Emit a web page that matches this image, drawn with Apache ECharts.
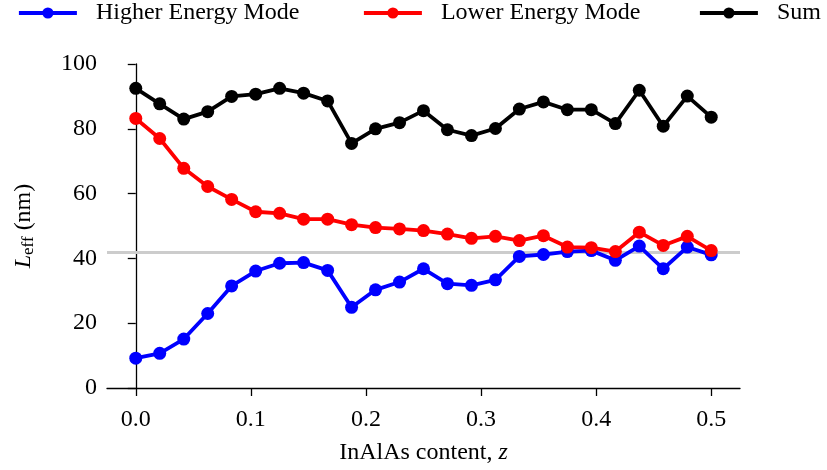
<!DOCTYPE html>
<html>
<head>
<meta charset="utf-8">
<script src="https://cdn.jsdelivr.net/npm/echarts@6/dist/echarts.min.js"></script>
<style>
  html, body { margin: 0; padding: 0; background: #ffffff; }
  #chart { width: 827px; height: 470px; }
</style>
</head>
<body>
<div id="chart"></div>
<script>
// InAlAs content z (one sample every 1/48)
const zContent = [0, 0.0208, 0.0417, 0.0625, 0.0833, 0.1042, 0.125, 0.1458, 0.1667, 0.1875,
  0.2083, 0.2292, 0.25, 0.2708, 0.2917, 0.3125, 0.3333, 0.3542, 0.375, 0.3958,
  0.4167, 0.4375, 0.4583, 0.4792, 0.5];

// Effective length L_eff (nm) for each mode
const higherMode = [9.2, 10.7, 15.1, 23.0, 31.5, 36.1, 38.5, 38.7, 36.3, 24.9,
  30.3, 32.7, 36.8, 32.2, 31.7, 33.4, 40.6, 41.2, 42.1, 42.4,
  39.4, 43.8, 36.8, 43.5, 41.1];
const lowerMode = [83.2, 77.0, 67.8, 62.2, 58.2, 54.4, 53.9, 52.1, 52.1, 50.4,
  49.5, 49.1, 48.6, 47.5, 46.2, 46.8, 45.5, 47.0, 43.5, 43.3,
  42.1, 48.1, 44.0, 46.8, 42.4];
const sumModes = [92.5, 87.7, 83.0, 85.3, 90.0, 90.7, 92.5, 91.0, 88.6, 75.5,
  80.0, 81.9, 85.6, 79.7, 77.9, 80.1, 86.1, 88.3, 85.9, 85.9,
  81.6, 91.9, 80.8, 90.1, 83.6];

// Reference level (nm)
const referenceLevel = 42;

const xTicks = [0, 0.1, 0.2, 0.3, 0.4, 0.5];
const seriesNames = ['Higher Energy Mode', 'Lower Energy Mode', 'Sum'];
const seriesColors = ['#0000ff', '#ff0000', '#000000'];

const FONT = '"Liberation Serif", "DejaVu Serif", serif';

function pairs(ys) {
  return zContent.map((x, i) => [x, ys[i]]);
}

function lineSeries(name, color, ys, z) {
  return {
    name: name,
    type: 'line',
    data: pairs(ys),
    z: z,
    symbol: 'circle',
    symbolSize: 13,
    showSymbol: true,
    itemStyle: { color: color },
    lineStyle: { color: color, width: 3.8 },
    emphasis: { disabled: true },
    animation: false
  };
}

const legendBase = {
  top: 1,
  itemWidth: 58,
  itemHeight: 14,
  padding: 0,
  lineStyle: { width: 3.8 },
  textStyle: { fontFamily: FONT, fontSize: 24, color: '#000', padding: [0, 0, 0, 14] },
  selectedMode: false
};

const chart = echarts.init(document.getElementById('chart'), null, { renderer: 'canvas' });

chart.setOption({
  backgroundColor: '#ffffff',
  animation: false,
  textStyle: { fontFamily: FONT },
  legend: [
    Object.assign({}, legendBase, { data: [seriesNames[0]], left: 17 }),
    Object.assign({}, legendBase, { data: [seriesNames[1]], left: 362 }),
    Object.assign({}, legendBase, { data: [seriesNames[2]], left: 698 })
  ],
  grid: { left: 107, right: 87, top: 64, bottom: 80, containLabel: false },
  xAxis: {
    type: 'value',
    min: -0.025,
    max: 0.525,
    name: 'InAlAs content, {i|z}',
    nameLocation: 'middle',
    nameGap: 53,
    nameTextStyle: {
      fontFamily: FONT, fontSize: 24, color: '#000',
      rich: { i: { fontFamily: FONT, fontSize: 24, fontStyle: 'italic', color: '#000' } }
    },
    axisLine: { show: true, lineStyle: { color: '#000', width: 1.3 } },
    axisTick: { show: true, length: 8, inside: false, customValues: xTicks, lineStyle: { color: '#000', width: 1.3 } },
    axisLabel: {
      customValues: xTicks,
      formatter: v => v.toFixed(1),
      fontFamily: FONT, fontSize: 24, color: '#000', margin: 20
    },
    splitLine: { show: false }
  },
  yAxis: {
    type: 'value',
    min: 0,
    max: 100,
    interval: 20,
    name: '{i|L}{s|eff} (nm)',
    nameLocation: 'middle',
    nameRotate: 90,
    nameGap: 70,
    nameTextStyle: {
      fontFamily: FONT, fontSize: 24, color: '#000',
      rich: {
        i: { fontFamily: FONT, fontSize: 24, fontStyle: 'italic', color: '#000' },
        s: { fontFamily: FONT, fontSize: 17, color: '#000', padding: [10, 0, 0, 0] }
      }
    },
    axisLine: { show: true, lineStyle: { color: '#000', width: 1.3 } },
    axisTick: { show: true, length: 8, inside: false, lineStyle: { color: '#000', width: 1.3 } },
    axisLabel: { fontFamily: FONT, fontSize: 24, color: '#000', margin: 10 },
    splitLine: { show: false }
  },
  series: [
    {
      name: 'reference',
      type: 'line',
      data: [],
      z: 1,
      silent: true,
      markLine: {
        silent: true,
        z: 1,
        symbol: 'none',
        label: { show: false },
        lineStyle: { color: '#cccccc', width: 3, type: 'solid' },
        emphasis: { disabled: true },
        animation: false,
        data: [{ yAxis: referenceLevel }]
      }
    },
    lineSeries(seriesNames[0], seriesColors[0], higherMode, 2),
    lineSeries(seriesNames[1], seriesColors[1], lowerMode, 3),
    lineSeries(seriesNames[2], seriesColors[2], sumModes, 4)
  ]
});
</script>
</body>
</html>
